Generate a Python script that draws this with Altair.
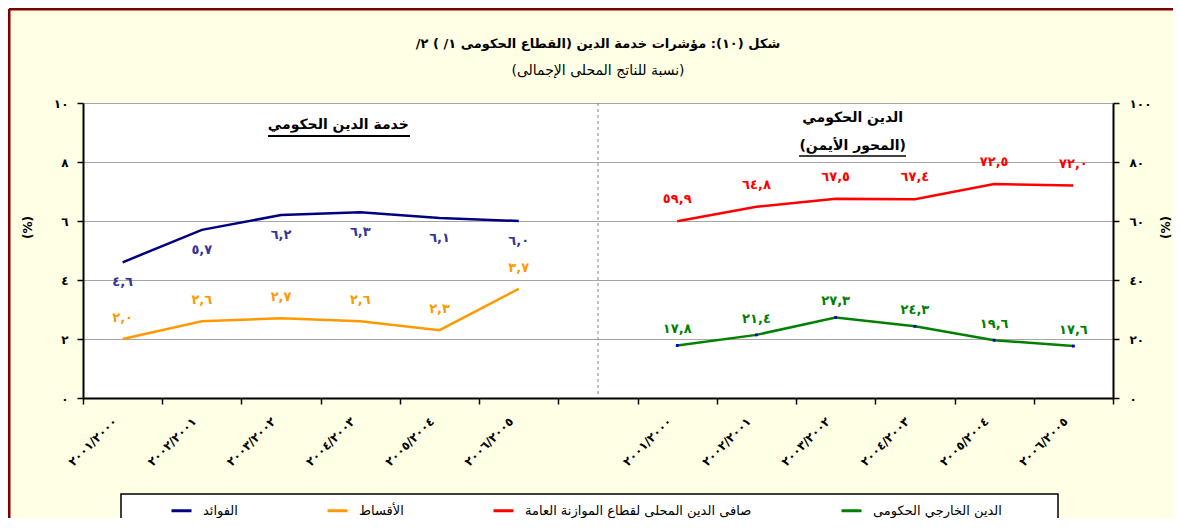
import json
import altair as alt
import pandas as pd

RLM = "\u200f"
AR_DIGITS = str.maketrans("0123456789", "٠١٢٣٤٥٦٧٨٩")


def ar(s):
    return str(s).translate(AR_DIGITS)


# ---------------- data ----------------
period_labels = ["٢٠٠١/٢٠٠٠", "٢٠٠٢/٢٠٠١", "٢٠٠٣/٢٠٠٢", "٢٠٠٤/٢٠٠٣", "٢٠٠٥/٢٠٠٤", "٢٠٠٦/٢٠٠٥"]
left_idx = [0, 1, 2, 3, 4, 5]
gap_idx = [6]
right_idx = [7, 8, 9, 10, 11, 12]
axis_labels = period_labels + [""] + period_labels

interest = [4.6, 5.7, 6.2, 6.3, 6.1, 6.0]
installments = [2.0, 2.6, 2.7, 2.6, 2.3, 3.7]
domestic_debt = [59.9, 64.8, 67.5, 67.4, 72.5, 72.0]
external_debt = [17.8, 21.4, 27.3, 24.3, 19.6, 17.6]

series_names = [
    "الفوائد",
    "الأقساط",
    "صافى الدين المحلى لقطاع الموازنة العامة",
    "الدين الخارجي الحكومى",
]
series_colors = ["#000080", "#FF9900", "#FF0000", "#008000"]
label_colors = ["#333399", "#FF9900", "#FF0000", "#008000"]

left_ticks = [0, 2, 4, 6, 8, 10]
left_tick_labels = ["٠", "٢", "٤", "٦", "٨", "١٠"]
right_ticks = [0, 20, 40, 60, 80, 100]
right_tick_labels = ["٠", "٢٠", "٤٠", "٦٠", "٨٠", "١٠٠"]

title_text = "شكل (١٠): مؤشرات خدمة الدين  (القطاع الحكومى ١/ )  ٢/"
subtitle_text = "(نسبة للناتج المحلى الإجمالى)"
left_panel_title = "خدمة الدين الحكومي"
right_panel_title = "الدين الحكومي"
right_panel_sub = "(المحور الأيمن)"
axis_title = "(%)"


def frame(idx, vals, name):
    return pd.DataFrame({
        "idx": idx,
        "value": vals,
        "series": name,
        "label": [ar(f"{v:.1f}".replace(".", ",")) for v in vals],
    })


df_int = frame(left_idx, interest, series_names[0])
df_ins = frame(left_idx, installments, series_names[1])
df_dom = frame(right_idx, domestic_debt, series_names[2])
df_ext = frame(right_idx, external_debt, series_names[3])
df_left = pd.concat([df_int, df_ins], ignore_index=True)
df_right = pd.concat([df_dom, df_ext], ignore_index=True)
df_gap = pd.DataFrame({"idx": gap_idx})
df_one = pd.DataFrame({"k": [0]})

W, H = 1030, 295
FONT = "DejaVu Sans"

# ---------------- encodings ----------------
x_axis = alt.Axis(
    title=None, tickBand="extent", grid=False,
    labelExpr=json.dumps(axis_labels, ensure_ascii=False) + "[datum.value]",
    labelAngle=315, labelAlign="right", labelBaseline="middle",
    labelPadding=15, labelOffset=-8, labelFontSize=12, labelFontWeight="bold",
    labelColor="black", labelOverlap=False,
    tickSize=6, tickWidth=1.5, tickColor="black",
    domainColor="black", domainWidth=2,
)
x_enc = alt.X("idx:O", scale=alt.Scale(type="band", domain=list(range(13)),
                                       paddingInner=0, paddingOuter=0), axis=x_axis)

left_axis = alt.Axis(
    orient="left", title=axis_title, titleFontSize=12, titleFontWeight="bold",
    titleAngle=270, titleX=-56, titleY=124, titleAlign="center", titleBaseline="middle",
    titleColor="black",
    values=left_ticks,
    labelExpr=json.dumps(left_tick_labels, ensure_ascii=False) + "[round(datum.value/2)]",
    labelFontSize=12, labelFontWeight="bold", labelColor="black", labelPadding=9,
    tickSize=6, tickWidth=1.5, tickColor="black", domainColor="black", domainWidth=2,
    grid=True, gridColor="#A6A6A6", gridWidth=1,
)
right_axis = alt.Axis(
    orient="right", title=axis_title, titleFontSize=12, titleFontWeight="bold",
    titleAngle=270, titleX=52, titleY=124, titleAlign="center", titleBaseline="middle",
    titleColor="black",
    values=right_ticks,
    labelExpr=json.dumps(right_tick_labels, ensure_ascii=False) + "[round(datum.value/20)]",
    labelFontSize=12, labelFontWeight="bold", labelColor="black", labelPadding=10,
    tickSize=6, tickWidth=1.5, tickColor="black", domainColor="black", domainWidth=2,
    grid=False,
)
y_left = alt.Y("value:Q", scale=alt.Scale(domain=[0, 10], nice=False), axis=left_axis)
y_right = alt.Y("value:Q", scale=alt.Scale(domain=[0, 100], nice=False), axis=right_axis)

legend = alt.Legend(
    title=None, orient="none", legendX=87, legendY=396, direction="horizontal",
    symbolType="stroke", symbolStrokeWidth=3, symbolSize=400,
    labelFontSize=13, labelColor="black", labelOffset=10, columnPadding=83,
    padding=0, labelLimit=400,
)
color_enc = alt.Color("series:N", scale=alt.Scale(domain=series_names, range=series_colors),
                      legend=legend)

# ---------------- left group ----------------
frame_left = alt.Chart(df_one).mark_rule(color="#800000", strokeWidth=3).encode(
    x=alt.value(-74), y=alt.value(-94), y2=alt.value(700))
frame_top = alt.Chart(df_one).mark_rule(color="#800000", strokeWidth=3).encode(
    x=alt.value(-74), x2=alt.value(1300), y=alt.value(-94))
legend_box = alt.Chart(df_one).mark_rect(fill="white", stroke="black", strokeWidth=1.5).encode(
    x=alt.value(38), x2=alt.value(975), y=alt.value(391), y2=alt.value(440))
separator = alt.Chart(df_gap).mark_rule(color="#808080", strokeDash=[3, 3], strokeWidth=1).encode(
    x=x_enc, y=alt.value(0), y2=alt.value(H))

left_lines = alt.Chart(df_left).mark_line(strokeWidth=2.5).encode(
    x=x_enc, y=y_left, color=color_enc, detail="series:N")
lbl_int = alt.Chart(df_int).mark_text(dy=20, fontSize=13, fontWeight="bold", color=label_colors[0]).encode(
    x=x_enc, y=y_left, text="label:N")
lbl_ins = alt.Chart(df_ins).mark_text(dy=-21, fontSize=13, fontWeight="bold", color=label_colors[1]).encode(
    x=x_enc, y=y_left, text="label:N")

df_lt = pd.DataFrame({"idx": [3], "value": [9.25], "t": [RLM + left_panel_title + RLM]})
df_rt = pd.DataFrame({"idx": [9, 9], "value": [9.49, 8.55],
                      "t": [RLM + right_panel_title + RLM, RLM + right_panel_sub + RLM]})
left_title = alt.Chart(df_lt).mark_text(dx=-22, fontSize=14, fontWeight="bold", color="black").encode(
    x=x_enc, y=y_left, text="t:N")
right_title = alt.Chart(df_rt).mark_text(dx=17, fontSize=14, fontWeight="bold", color="black").encode(
    x=x_enc, y=y_left, text="t:N")
ul_left = alt.Chart(df_one).mark_rule(color="black", strokeWidth=2).encode(
    x=alt.value(185), x2=alt.value(327), y=alt.value(33))
ul_right = alt.Chart(df_one).mark_rule(color="black", strokeWidth=1.5).encode(
    x=alt.value(716), x2=alt.value(823), y=alt.value(53))

left_group = alt.layer(frame_left, frame_top, legend_box, separator, left_lines, lbl_int, lbl_ins,
                       left_title, right_title, ul_left, ul_right)

# ---------------- right group ----------------
right_lines = alt.Chart(df_right).mark_line(strokeWidth=2.5).encode(
    x=x_enc, y=y_right, color=color_enc, detail="series:N")
ext_pts = alt.Chart(df_ext).mark_point(filled=True, shape="square", size=8, color="#0000CC", opacity=1).encode(
    x=x_enc, y=y_right)
lbl_dom = alt.Chart(df_dom).mark_text(dy=-22, fontSize=13, fontWeight="bold", color=label_colors[2]).encode(
    x=x_enc, y=y_right, text="label:N")
lbl_ext = alt.Chart(df_ext).mark_text(dy=-16, fontSize=13, fontWeight="bold", color=label_colors[3]).encode(
    x=x_enc, y=y_right, text="label:N")
right_group = alt.layer(right_lines, ext_pts, lbl_dom, lbl_ext)

chart = alt.layer(left_group, right_group).resolve_scale(y="independent").properties(
    width=W, height=H,
    padding={"left": 75, "top": 95, "right": 60, "bottom": 120},
    autosize=alt.AutoSizeParams(type="none"),
    title=alt.TitleParams(
        text=RLM + title_text + RLM, subtitle=RLM + subtitle_text + RLM,
        anchor="middle", fontSize=13, fontWeight="bold", color="black",
        subtitleFontSize=14, subtitleColor="black", subtitlePadding=13,
        offset=0, dy=70,
    ),
).configure(font=FONT, background="#FFFFE5").configure_view(fill="white", stroke="transparent")

chart.save("out.html", embed_options={"renderer": "svg", "actions": False})
